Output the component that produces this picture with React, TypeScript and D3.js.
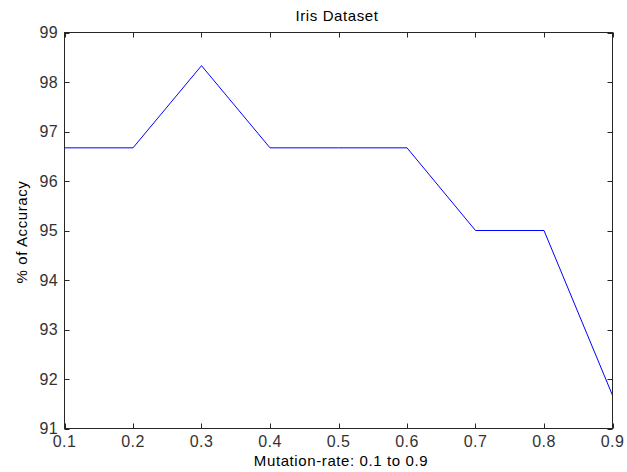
import React from "react";
import * as d3 from "d3";

const mutationRates = [0.1, 0.2, 0.3, 0.4, 0.5, 0.6, 0.7, 0.8, 0.9];
const accuracy = [96.67, 96.67, 98.33, 96.67, 96.67, 96.67, 95.0, 95.0, 91.67];
const xTicks = [0.1, 0.2, 0.3, 0.4, 0.5, 0.6, 0.7, 0.8, 0.9];
const yTicks = [91, 92, 93, 94, 95, 96, 97, 98, 99];

const W = 627, H = 472;
const L = 64.5, R = 612.5, T = 32.5, B = 428.5;
const FONT = "'Liberation Sans', Arial, sans-serif";

export default function App() {
  const x = d3.scaleLinear().domain([0.1, 0.9]).range([L, R]);
  const y = d3.scaleLinear().domain([91, 99]).range([B, T]);
  const line = d3.line<number>().x((_, i) => x(mutationRates[i])).y((d) => y(d));
  const tk = 5;
  return (
    <svg width={W} height={H} style={{ position: "absolute", left: 0, top: 0, background: "#fff" }}>
      <rect x={0} y={0} width={W} height={H} fill="#fff" />
      <path d={line(accuracy) || ""} fill="none" stroke="#0000ff" strokeWidth={1} />
      <rect x={L} y={T} width={R - L} height={B - T} fill="none" stroke="#262626" strokeWidth={1} />
      {xTicks.map((t) => (
        <g key={"x" + t}>
          <line x1={Math.round(x(t)) + 0.5} x2={Math.round(x(t)) + 0.5} y1={B} y2={B - tk} stroke="#262626" />
          <line x1={Math.round(x(t)) + 0.5} x2={Math.round(x(t)) + 0.5} y1={T} y2={T + tk} stroke="#262626" />
          <text x={x(t)} y={447} textAnchor="middle" fontFamily={FONT} fontSize={16} letterSpacing={0.5} fill="#333">
            {t.toFixed(1)}
          </text>
        </g>
      ))}
      {yTicks.map((t) => (
        <g key={"y" + t}>
          <line x1={L} x2={L + tk} y1={Math.round(y(t)) + 0.5} y2={Math.round(y(t)) + 0.5} stroke="#262626" />
          <line x1={R} x2={R - tk} y1={Math.round(y(t)) + 0.5} y2={Math.round(y(t)) + 0.5} stroke="#262626" />
          <text x={58} y={y(t) + 5.5} textAnchor="end" fontFamily={FONT} fontSize={16} letterSpacing={0.3} fill="#333">
            {t}
          </text>
        </g>
      ))}
      <text x={337} y={21} textAnchor="middle" fontFamily={FONT} fontSize={15} letterSpacing={0.6} fill="#000">
        Iris Dataset
      </text>
      <text x={341} y={466} textAnchor="middle" fontFamily={FONT} fontSize={15} letterSpacing={0.6} fill="#000">
        Mutation-rate: 0.1 to 0.9
      </text>
      <text transform={`translate(27,232) rotate(-90)`} textAnchor="middle" fontFamily={FONT} fontSize={15} letterSpacing={0.6} fill="#000">
        % of Accuracy
      </text>
    </svg>
  );
}
